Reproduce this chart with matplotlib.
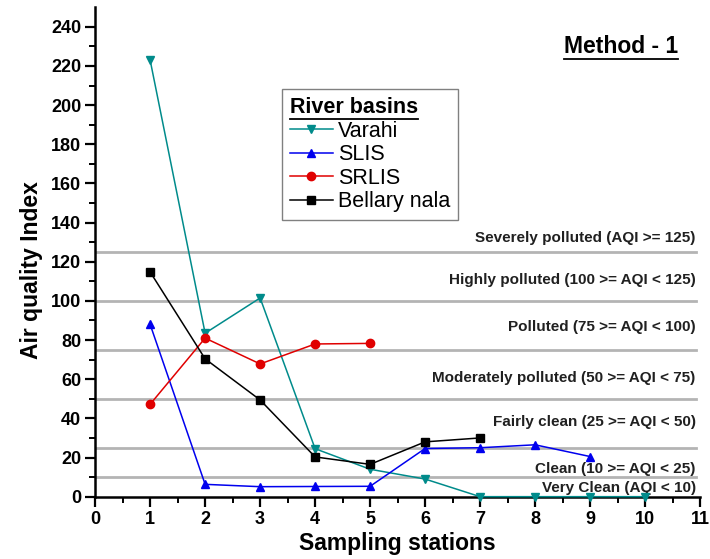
import numpy as np
import matplotlib
matplotlib.use("Agg")
import matplotlib.pyplot as plt
from matplotlib.lines import Line2D

plt.rcParams['font.family'] = ['Liberation Sans', 'DejaVu Sans']

# data
stations = [1, 2, 3, 4, 5, 6, 7, 8, 9, 10]
varahi = [223, 83.5, 101.5, 24.5, 14, 9, 0, 0, 0, 0]
slis = [88, 6.3, 5.1, 5.2, 5.3, 24.6, 25, 26.5, 20.5]
srlis = [47.2, 81, 67.8, 78, 78.3]
bellary = [114.8, 70.4, 49.4, 20.3, 16.5, 28, 30]

series_names = ["Varahi", "SLIS", "SRLIS", "Bellary nala"]
series_vals = [varahi, slis, srlis, bellary]
series_colors = ["#008b8b", "#0000ee", "#e00000", "#000000"]
series_markers = ["v", "^", "o", "s"]

# AQI class limits and their labels
limits = [10, 25, 50, 75, 100, 125]
class_labels = ["Severely polluted (AQI >= 125)",
                "Highly polluted (100 >= AQI < 125)",
                "Polluted (75 >= AQI < 100)",
                "Moderately polluted (50 >= AQI < 75)",
                "Fairly clean (25 >= AQI < 50)",
                "Clean (10 >= AQI < 25)",
                "Very Clean (AQI < 10)"]
class_label_y = [132, 110.5, 86.5, 60.5, 38, 14, 4.3]


def underline(fig, txt, lw=1.3):
    # draw a line under a text artist (in figure pixel coords)
    fig.canvas.draw()
    bb = txt.get_window_extent(renderer=fig.canvas.get_renderer())
    inv = fig.transFigure.inverted()
    (x0, y0), (x1, _) = inv.transform([(bb.x0, bb.y0 - 1), (bb.x1, bb.y0 - 1)])
    fig.add_artist(Line2D([x0, x1], [y0, y0], transform=fig.transFigure,
                          color="k", lw=lw))


fig = plt.figure(figsize=(7.1, 5.59), dpi=100)
ax = fig.add_axes([0.134, 0.1115, 0.852, 0.8755])

for lim in limits:
    ax.axhline(lim, xmax=0.994, color="#b4b4b4", lw=2, zorder=1)
for lab, yy in zip(class_labels, class_label_y):
    ax.text(10.92, yy, lab, ha="right", va="center", fontsize=11,
            fontweight="bold", color="#202020")

for name, vals, col, mk in zip(series_names, series_vals, series_colors,
                               series_markers):
    ax.plot(stations[:len(vals)], vals, color=col, marker=mk, markersize=6,
            lw=1.1, label=name, zorder=3, clip_on=False)

ax.set_xlim(0, 11)
ax.set_ylim(0, 250)
ax.set_xticks(range(0, 12))
ax.set_yticks(range(0, 241, 20))
ax.set_xticks(np.arange(0.5, 11, 1), minor=True)
ax.set_yticks(range(10, 250, 20), minor=True)
for s in ["top", "right"]:
    ax.spines[s].set_visible(False)
for s in ["left", "bottom"]:
    ax.spines[s].set_linewidth(1.8)
ax.tick_params(which="major", direction="out", length=7, width=1.6,
               labelsize=13, pad=3)
ax.tick_params(which="minor", direction="out", length=4, width=1.4)
for t in ax.get_xticklabels() + ax.get_yticklabels():
    t.set_fontweight("bold")

ax.set_xlabel("Sampling stations", fontsize=16.5, fontweight="bold",
              labelpad=3)
ax.set_ylabel("Air quality Index", fontsize=16.5, fontweight="bold")
ax.yaxis.set_label_coords(-0.086, 0.463)

leg = ax.legend(loc="upper left", bbox_to_anchor=(0.309, 0.832),
                borderaxespad=0, fontsize=15.5, title="River basins",
                title_fontproperties={"weight": "bold", "size": 15.5},
                alignment="left", fancybox=False, edgecolor="#808080",
                framealpha=1, handlelength=2.0, handletextpad=0.25,
                labelspacing=0.12, borderpad=0.35)
leg.get_frame().set_linewidth(1.0)

method = fig.text(0.955, 0.905, "Method - 1", ha="right", va="baseline",
                  fontsize=16.5, fontweight="bold")

underline(fig, leg.get_title())
underline(fig, method)

fig.savefig("out.png", dpi=100)
